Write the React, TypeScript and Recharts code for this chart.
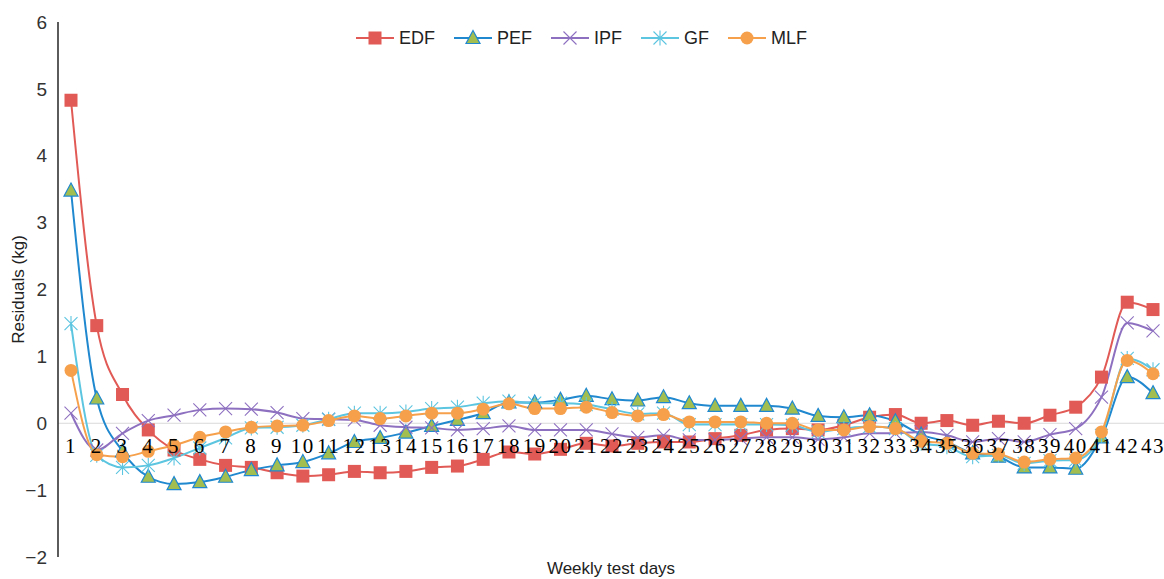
import { CartesianGrid, Line, LineChart, ReferenceLine, XAxis, YAxis } from 'recharts'

// 周次 1..43
const weeks = [
  '1', '2', '3', '4', '5', '6', '7', '8', '9', '10', '11', '12', '13', '14', '15',
  '16', '17', '18', '19', '20', '21', '22', '23', '24', '25', '26', '27', '28', '29',
  '30', '31', '32', '33', '34', '35', '36', '37', '38', '39', '40', '41', '42', '43',
]

const edf = [
  4.83, 1.46, 0.43, -0.1, -0.4, -0.54, -0.63, -0.66, -0.74, -0.79, -0.77, -0.72, -0.74, -0.72,
  -0.66, -0.64, -0.54, -0.43, -0.46, -0.39, -0.3, -0.34, -0.3, -0.28, -0.28, -0.23, -0.18, -0.1,
  -0.08, -0.1, -0.03, 0.09, 0.13, 0.0, 0.04, -0.03, 0.03, 0.0, 0.12, 0.24, 0.69, 1.81, 1.7,
]
const pef = [
  3.48, 0.37, -0.42, -0.8, -0.91, -0.88, -0.8, -0.7, -0.63, -0.58, -0.45, -0.28, -0.22, -0.14,
  -0.04, 0.05, 0.15, 0.31, 0.31, 0.35, 0.41, 0.36, 0.34, 0.39, 0.3, 0.26, 0.26, 0.26,
  0.22, 0.11, 0.09, 0.12, 0.03, -0.17, -0.28, -0.45, -0.5, -0.66, -0.66, -0.68, -0.21, 0.69, 0.45,
]
const ipf = [
  0.15, -0.4, -0.15, 0.04, 0.12, 0.2, 0.22, 0.21, 0.16, 0.07, 0.06, 0.05, -0.03, -0.06,
  -0.07, -0.1, -0.08, -0.04, -0.1, -0.1, -0.1, -0.16, -0.21, -0.18, -0.25, -0.25, -0.23, -0.21,
  -0.21, -0.24, -0.21, -0.15, -0.15, -0.13, -0.18, -0.28, -0.23, -0.28, -0.17, -0.08, 0.39, 1.5, 1.38,
]
const gf = [
  1.49, -0.48, -0.66, -0.63, -0.52, -0.37, -0.22, -0.07, -0.06, -0.03, 0.06, 0.15, 0.15, 0.17,
  0.22, 0.24, 0.3, 0.33, 0.3, 0.3, 0.28, 0.21, 0.14, 0.15, -0.02, -0.02, -0.02, -0.02,
  -0.03, -0.13, -0.08, -0.05, -0.08, -0.3, -0.35, -0.5, -0.48, -0.6, -0.56, -0.55, -0.18, 0.97, 0.8,
]
const mlf = [
  0.79, -0.47, -0.5, -0.42, -0.33, -0.21, -0.13, -0.06, -0.04, -0.03, 0.04, 0.11, 0.07, 0.11,
  0.15, 0.15, 0.21, 0.29, 0.22, 0.22, 0.24, 0.16, 0.11, 0.13, 0.02, 0.02, 0.02, 0.0,
  0.0, -0.1, -0.1, -0.05, -0.08, -0.27, -0.3, -0.45, -0.46, -0.58, -0.54, -0.52, -0.13, 0.94, 0.74,
]

const yTicks = [-2, -1, 0, 1, 2, 3, 4, 5, 6]

// 颜色
const RED = '#E15A55'
const BLUE = '#1F88CF'
const OLIVE = '#A3BE50'
const PURPLE = '#8E70C0'
const CYAN = '#5CC5E0'
const ORANGE = '#F6A04B'
const AXIS = '#333333'

const W = 1164
const H = 579
const M_TOP = 22
const M_LEFT = 58
const X_AXIS_H = 22
const PLOT_H = H - M_TOP - X_AXIS_H
const Y_MIN = -2
const Y_MAX = 6
// 横轴标签放在 0 线下方
const ZERO_Y = M_TOP + (PLOT_H * Y_MAX) / (Y_MAX - Y_MIN)

const chartData = weeks.map((w, i) => ({
  week: w,
  EDF: edf[i],
  PEF: pef[i],
  IPF: ipf[i],
  GF: gf[i],
  MLF: mlf[i],
}))

type DotProps = { cx?: number; cy?: number; index?: number }

function SquareDot({ cx = 0, cy = 0 }: DotProps) {
  return <rect x={cx - 6.5} y={cy - 6.5} width={13} height={13} fill={RED} />
}
function TriangleDot({ cx = 0, cy = 0 }: DotProps) {
  return (
    <polygon
      points={`${cx},${cy - 7.5} ${cx + 7},${cy + 5.5} ${cx - 7},${cy + 5.5}`}
      fill={OLIVE}
      stroke={BLUE}
      strokeWidth={1.2}
    />
  )
}
function CrossDot({ cx = 0, cy = 0 }: DotProps) {
  return (
    <path
      d={`M${cx - 6.5},${cy - 6.5}L${cx + 6.5},${cy + 6.5}M${cx - 6.5},${cy + 6.5}L${cx + 6.5},${cy - 6.5}`}
      stroke={PURPLE}
      strokeWidth={1.1}
      fill="none"
    />
  )
}
function StarDot({ cx = 0, cy = 0 }: DotProps) {
  return (
    <path
      d={`M${cx - 6.5},${cy - 6.5}L${cx + 6.5},${cy + 6.5}M${cx - 6.5},${cy + 6.5}L${cx + 6.5},${cy - 6.5}M${cx},${cy - 7.5}L${cx},${cy + 7.5}`}
      stroke={CYAN}
      strokeWidth={1.1}
      fill="none"
    />
  )
}
function CircleDot({ cx = 0, cy = 0 }: DotProps) {
  return <circle cx={cx} cy={cy} r={6.5} fill={ORANGE} />
}

const series = [
  { key: 'EDF', color: RED, Dot: SquareDot, legendX: 356 },
  { key: 'PEF', color: BLUE, Dot: TriangleDot, legendX: 454 },
  { key: 'IPF', color: PURPLE, Dot: CrossDot, legendX: 551 },
  { key: 'GF', color: CYAN, Dot: StarDot, legendX: 641 },
  { key: 'MLF', color: ORANGE, Dot: CircleDot, legendX: 728 },
]

function WeekTick(props: { x?: number; payload?: { value: string } }) {
  const { x = 0, payload } = props
  return (
    <text
      x={x}
      y={ZERO_Y + 30}
      textAnchor="middle"
      fontFamily="'Liberation Serif', 'Times New Roman', serif"
      fontSize={21}
      letterSpacing={1.5}
      fill="#000"
    >
      {payload?.value}
    </text>
  )
}

function YLabel(props: { viewBox?: { x: number; y: number; height: number } }) {
  const vb = props.viewBox ?? { x: 0, y: 0, height: 0 }
  const cx = vb.x + 18
  const cy = vb.y + vb.height / 2
  return (
    <text
      x={cx}
      y={cy}
      transform={`rotate(-90, ${cx}, ${cy})`}
      textAnchor="middle"
      dominantBaseline="central"
      fontSize={17}
      fill="#222"
    >
      Residuals (kg)
    </text>
  )
}

function Legend() {
  return (
    <div style={{ position: 'absolute', left: 0, top: 26, width: W, height: 26 }}>
      {series.map(({ key, color, Dot, legendX }) => (
        <div
          key={key}
          style={{
            position: 'absolute',
            left: legendX,
            top: 0,
            display: 'flex',
            alignItems: 'center',
            fontSize: 18,
            color: '#222',
          }}
        >
          <svg width={38} height={24} style={{ marginRight: 5 }}>
            <line x1={0} y1={12} x2={38} y2={12} stroke={color} strokeWidth={2} />
            <Dot cx={19} cy={12} />
          </svg>
          <span>{key}</span>
        </div>
      ))}
    </div>
  )
}

export default function App() {
  return (
    <div
      style={{
        position: 'absolute',
        left: 0,
        top: 0,
        width: W,
        height: H,
        background: '#fff',
        fontFamily: "'Liberation Sans', Arial, sans-serif",
      }}
    >
      <LineChart
        width={W}
        height={H}
        data={chartData}
        margin={{ top: M_TOP, right: 0, left: 0, bottom: 0 }}
      >
        <CartesianGrid vertical={false} horizontal={false} />
        <YAxis
          domain={[Y_MIN, Y_MAX]}
          ticks={yTicks}
          allowDataOverflow
          width={M_LEFT}
          tickLine={false}
          tickMargin={5}
          axisLine={{ stroke: AXIS, strokeWidth: 1.6 }}
          tick={{ fill: '#333', fontSize: 19 }}
          tickFormatter={(v: number) => (v < 0 ? `\u2212${Math.abs(v)}` : `${v}`)}
          label={<YLabel />}
        />
        <ReferenceLine y={0} stroke="#D9D9D9" strokeWidth={1} />
        {series.map(({ key, color, Dot }) => (
          <Line
            key={key}
            type="monotone"
            dataKey={key}
            stroke={color}
            strokeWidth={2}
            dot={(p: DotProps) => <Dot key={`${key}-${p.index}`} cx={p.cx} cy={p.cy} />}
            activeDot={false}
            isAnimationActive={false}
          />
        ))}
        <XAxis
          dataKey="week"
          interval={0}
          height={X_AXIS_H}
          padding={{ left: 13, right: 11 }}
          axisLine={false}
          tickLine={false}
          tick={<WeekTick />}
          label={{
            value: 'Weekly test days',
            position: 'insideBottom',
            offset: 5,
            fontSize: 17,
            fill: '#222',
          }}
        />
      </LineChart>
      <Legend />
    </div>
  )
}
